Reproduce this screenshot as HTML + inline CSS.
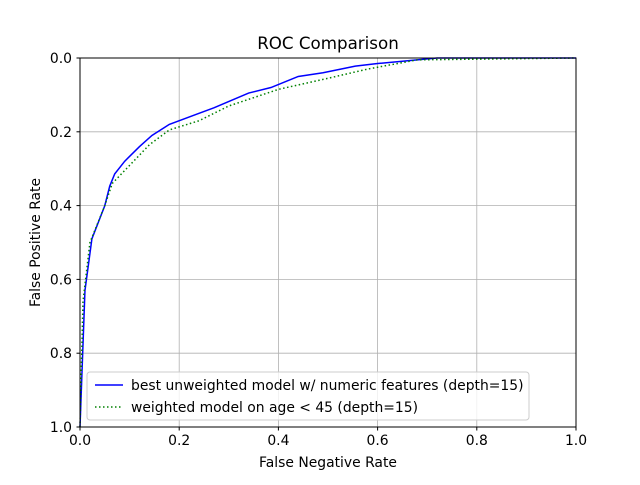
<!DOCTYPE html>
<html><head><meta charset="utf-8"><style>
body{margin:0;background:#fff;}
svg text{font-family:"DejaVu Sans","Liberation Sans",sans-serif;fill:#000;}
</style></head><body>
<svg id="chart" width="640" height="480" xmlns="http://www.w3.org/2000/svg">
<rect width="640" height="480" fill="#fff"/>
<g id="grid"></g>
<g id="series"></g>
<rect x="80" y="58" width="496" height="369" fill="none" stroke="#000" stroke-width="1"/>
<g id="ticks"></g>
<text x="328" y="49" font-size="16.7" text-anchor="middle">ROC Comparison</text>
<text x="328" y="467" font-size="13.9" text-anchor="middle">False Negative Rate</text>
<text transform="translate(40,242.5) rotate(-90)" font-size="13.9" text-anchor="middle">False Positive Rate</text>
<g>
<rect x="87" y="372" width="442" height="48" rx="3" fill="#fff" fill-opacity="0.8" stroke="#ccc"/>
<line x1="95" y1="385" x2="123" y2="385" stroke="#0000ff" stroke-width="1.5"/>
<text x="131" y="390" font-size="13.9">best unweighted model w/ numeric features (depth=15)</text>
<line x1="95" y1="407" x2="123" y2="407" stroke="#008000" stroke-width="1.5" stroke-dasharray="1.5,2.5"/>
<text x="131" y="412" font-size="13.9">weighted model on age &lt; 45 (depth=15)</text>
</g>
</svg>
<script>
const xTicks=[0,0.2,0.4,0.6,0.8,1.0];
const yTicks=[0,0.2,0.4,0.6,0.8,1.0];
const blueX=[0,0.01,0.024,0.05,0.06,0.07,0.09,0.12,0.145,0.18,0.24,0.27,0.305,0.34,0.385,0.44,0.49,0.555,0.6,0.72,1.0];
const blueY=[1.0,0.63,0.49,0.40,0.347,0.314,0.28,0.24,0.21,0.18,0.15,0.135,0.115,0.095,0.08,0.05,0.04,0.022,0.015,0.0,0.0];
const greenX=[0,0.006,0.02,0.05,0.065,0.09,0.14,0.18,0.24,0.3,0.4,0.5,0.58,0.68,1.0];
const greenY=[1.0,0.66,0.5,0.4,0.34,0.305,0.235,0.195,0.17,0.13,0.085,0.055,0.03,0.005,0.0];
const NS="http://www.w3.org/2000/svg";
const sx=v=>80+v*496, sy=v=>58+v*369;
const grid=document.getElementById('grid'),ticks=document.getElementById('ticks'),series=document.getElementById('series');
function mk(t,a,p){const e=document.createElementNS(NS,t);for(const k in a)e.setAttribute(k,a[k]);p.appendChild(e);return e;}
xTicks.forEach(v=>{
 const g=mk('line',{x1:sx(v),x2:sx(v),y1:58,y2:427,stroke:'#b0b0b0','stroke-width':0.8},grid);
 
 
 const t=mk('line',{x1:sx(v),x2:sx(v),y1:427,y2:430.5,stroke:'#000'},ticks);
 
 
 const l=mk('text',{x:sx(v),y:445,'font-size':13.9,'text-anchor':'middle'},ticks);l.textContent=v.toFixed(1);
 
 
});
yTicks.forEach(v=>{
 const g=mk('line',{x1:80,x2:576,y1:sy(v),y2:sy(v),stroke:'#b0b0b0','stroke-width':0.8},grid);
 
 
 const t=mk('line',{x1:76.5,x2:80,y1:sy(v),y2:sy(v),stroke:'#000'},ticks);
 
 
 const l=mk('text',{x:72,y:sy(v)+5,'font-size':13.9,'text-anchor':'end'},ticks);l.textContent=v.toFixed(1);
 
 
});
function pts(xs,ys){return xs.map((x,i)=>sx(x)+','+sy(ys[i])).join(' ');}
const b=mk('polyline',{points:pts(blueX,blueY),fill:'none',stroke:'#0000ff','stroke-width':1.5},series);


const g=mk('polyline',{points:pts(greenX,greenY),fill:'none',stroke:'#008000','stroke-width':1.5,'stroke-dasharray':'1.5,2.5'},series);


</script>
</body></html>
